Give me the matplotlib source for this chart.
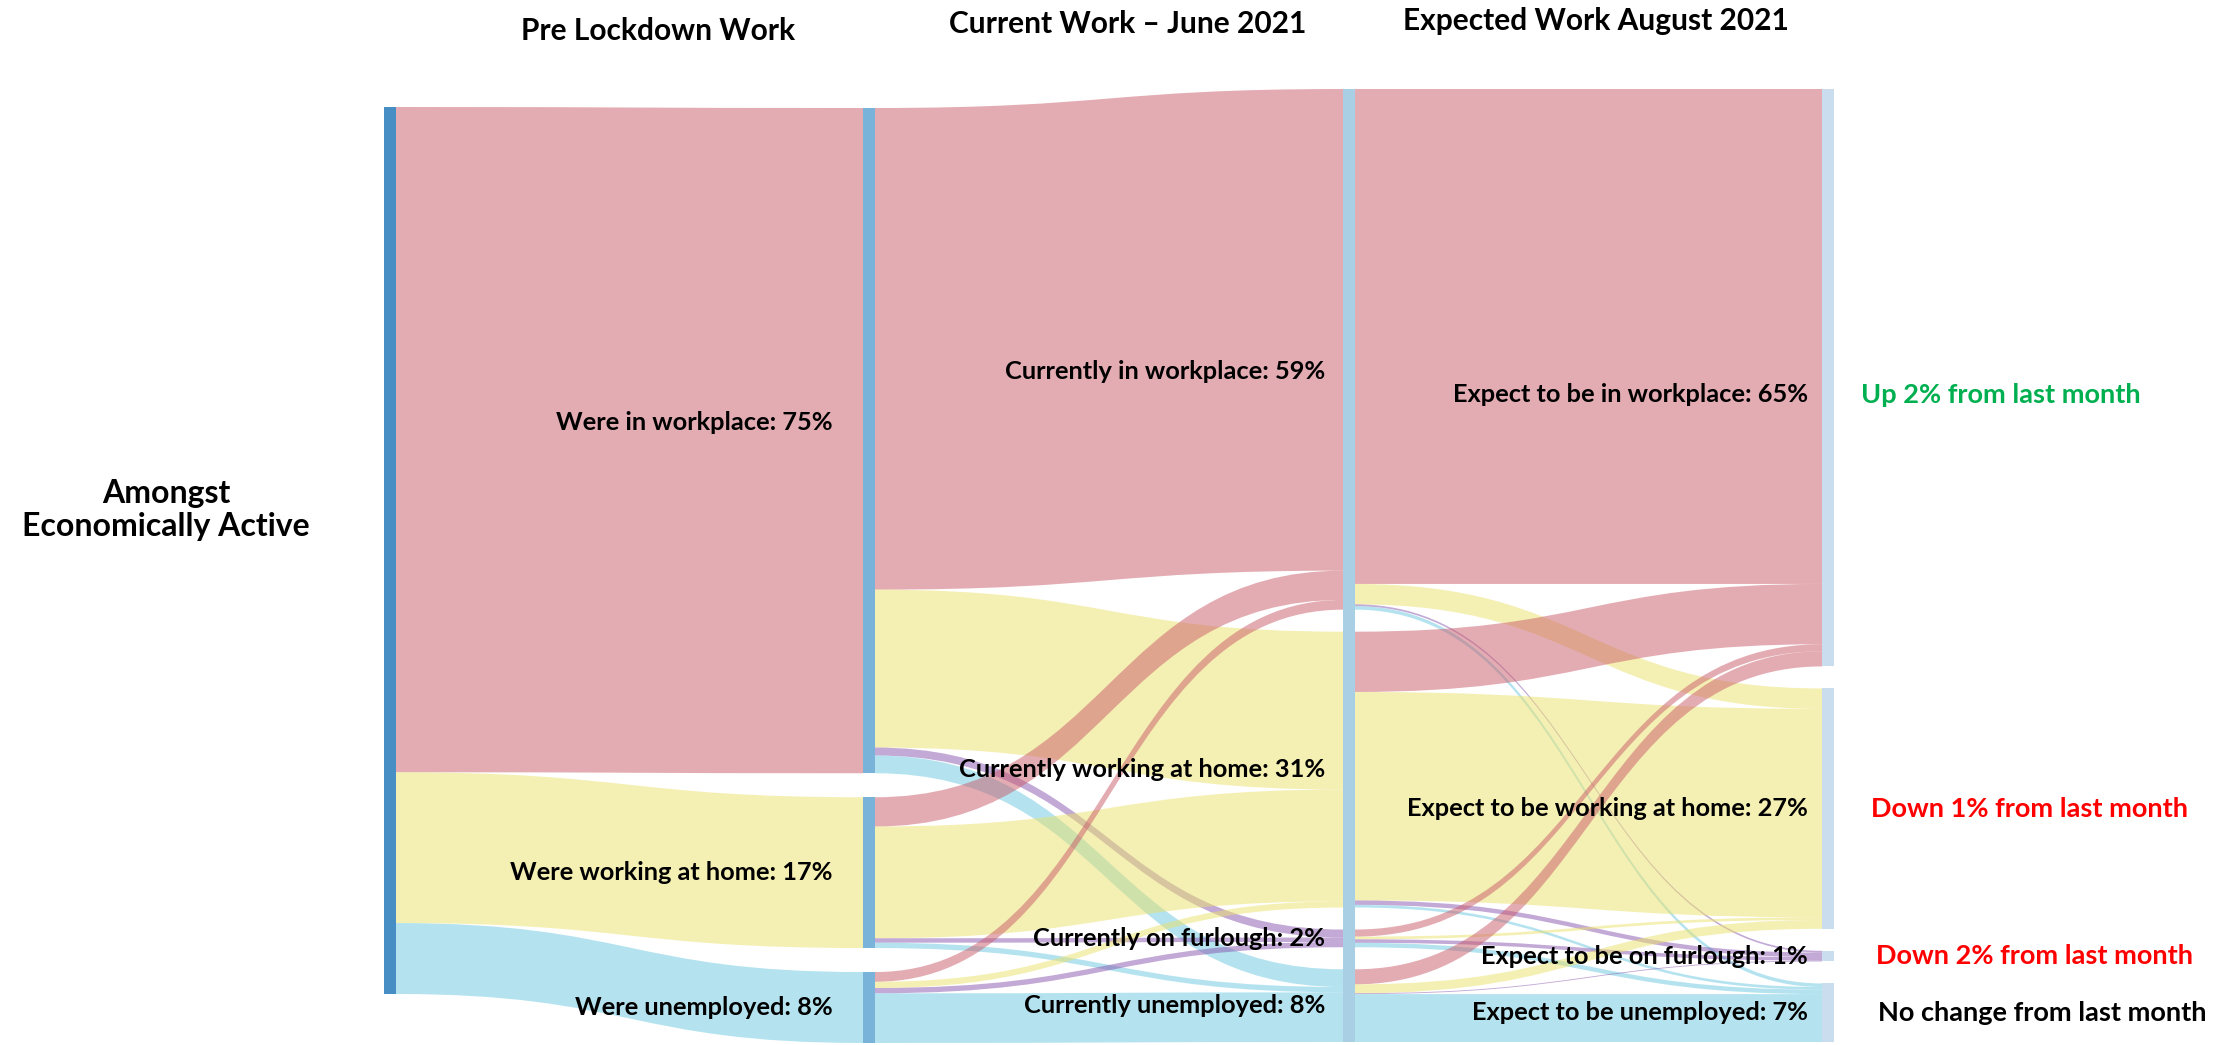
import matplotlib
matplotlib.use("Agg")
import matplotlib.pyplot as plt
from matplotlib.path import Path
from matplotlib.patches import PathPatch, Rectangle

plt.rcParams['font.family'] = ['Lato', 'DejaVu Sans']

# ---------------- data ----------------
column_titles = ["Pre Lockdown Work", "Current Work \u2013 June 2021", "Expected Work August 2021"]
root_label = "Amongst\nEconomically Active"

pre_labels = ["Were in workplace: 75%", "Were working at home: 17%", "Were unemployed: 8%"]
pre_values = [75, 17, 8]
pre_states = ["workplace", "home", "unemployed"]

current_labels = ["Currently in workplace: 59%", "Currently working at home: 31%",
                  "Currently on furlough: 2%", "Currently unemployed: 8%"]
current_states = ["workplace", "home", "furlough", "unemployed"]
# rows: pre state, cols: current state (% of economically active)
pre_workplace_to_current = [54.3, 17.8, 0.9, 2.0]
pre_home_to_current = [3.3, 12.6, 0.5, 0.6]
pre_unemployed_to_current = [1.1, 0.7, 0.6, 5.6]

expected_labels = ["Expect to be in workplace: 65%", "Expect to be working at home: 27%",
                   "Expect to be on furlough: 1%", "Expect to be unemployed: 7%"]
expected_states = ["workplace", "home", "furlough", "unemployed"]
# rows: current state, cols: expected state
cur_workplace_to_expected = [55.8, 2.3, 0.2, 0.4]
cur_home_to_expected = [6.8, 23.5, 0.5, 0.3]
cur_furlough_to_expected = [0.8, 0.3, 0.4, 0.5]
cur_unemployed_to_expected = [1.7, 1.0, 0.1, 5.4]

change_labels = ["Up 2% from last month", "Down 1% from last month",
                 "Down 2% from last month", "No change from last month"]
change_colors = ["#00b050", "#ff0000", "#ff0000", "#000000"]

# ---------------- style / layout ----------------
state_colors = {"workplace": "#c95b69", "home": "#ebe169",
                "furlough": "#8755af", "unemployed": "#6bc9e1"}
flow_alpha = 0.5
bar_colors = ["#468ec4", "#7ab3da", "#a9cfe5", "#c9ddee"]
W, H = 2229, 1045
scale = 8.87          # px per percentage point
col_x = [384, 863, 1343, 1822]
bar_w = 12
col_top = [107, 108, 89, 89]
col_gap = [0, 24, 22, 22]
label_pad = [0, 30, 18, 14]
label_font = 18.3
change_x = [1861, 1871, 1876, 1878]

fig = plt.figure(figsize=(W / 100, H / 100), dpi=100)
ax = fig.add_axes([0, 0, 1, 1])
ax.set_xlim(0, W)
ax.set_ylim(H, 0)
ax.axis("off")

pre_to_current = [pre_workplace_to_current, pre_home_to_current, pre_unemployed_to_current]
current_to_expected = [cur_workplace_to_expected, cur_home_to_expected,
                       cur_furlough_to_expected, cur_unemployed_to_expected]
current_values = [sum(r[j] for r in pre_to_current) for j in range(4)]
expected_values = [sum(r[j] for r in current_to_expected) for j in range(4)]
columns = [[sum(pre_values)], pre_values, current_values, expected_values]


def layout(c):
    y = col_top[c]
    spans = []
    for v in columns[c]:
        spans.append([y, y + v * scale])
        y += v * scale + col_gap[c]
    return spans


spans = [layout(c) for c in range(4)]


def flow(x0, a0, b0, x1, a1, b1, color):
    xm = (x0 + x1) / 2
    verts = [(x0, a0), (xm, a0), (xm, a1), (x1, a1), (x1, b1),
             (xm, b1), (xm, b0), (x0, b0), (x0, a0)]
    codes = [Path.MOVETO, Path.CURVE4, Path.CURVE4, Path.CURVE4, Path.LINETO,
             Path.CURVE4, Path.CURVE4, Path.CURVE4, Path.CLOSEPOLY]
    ax.add_patch(PathPatch(Path(verts, codes), facecolor=color, edgecolor="none",
                           alpha=flow_alpha, zorder=1))


# stage 0 -> 1
y_src = spans[0][0][0]
for i, v in enumerate(pre_values):
    t0, t1 = spans[1][i]
    flow(col_x[0] + bar_w, y_src, y_src + v * scale, col_x[1], t0, t1,
         state_colors[pre_states[i]])
    y_src += v * scale


def stage(c, matrix, tgt_states):
    src_off = [s[0] for s in spans[c]]
    tgt_off = [s[0] for s in spans[c + 1]]
    for i, row in enumerate(matrix):
        for j, v in enumerate(row):
            h = v * scale
            flow(col_x[c] + bar_w, src_off[i], src_off[i] + h,
                 col_x[c + 1], tgt_off[j], tgt_off[j] + h,
                 state_colors[tgt_states[j]])
            src_off[i] += h
            tgt_off[j] += h


stage(1, pre_to_current, current_states)
stage(2, current_to_expected, expected_states)

# node bars
for c in range(4):
    if c == 2:
        segs = [(spans[c][0][0], spans[c][-1][1])]
    else:
        segs = spans[c]
    for (a, b) in segs:
        ax.add_patch(Rectangle((col_x[c], a), bar_w, b - a, facecolor=bar_colors[c],
                               edgecolor="none", zorder=3))

# node labels
label_sets = [None, pre_labels, current_labels, expected_labels]
first_dy = [0, -18, 22, 17]
for c in range(1, 4):
    for k, lab in enumerate(label_sets[c]):
        a, b = spans[c][k]
        y = (a + b) / 2 + (first_dy[c] if k == 0 else 0)
        ax.text(col_x[c] - label_pad[c], y, lab, ha="right", va="center",
                fontsize=label_font, fontweight="bold", color="black", zorder=5)

# change annotations
for k, lab in enumerate(change_labels):
    a, b = spans[3][k]
    y = (a + b) / 2 + (first_dy[3] if k == 0 else 0)
    ax.text(change_x[k], y, lab, ha="left", va="center", fontsize=19.5,
            fontweight="bold", color=change_colors[k], zorder=5)

# titles
title_pos = [(658, 31), (1128, 24), (1596, 21)]
for (x, y), t in zip(title_pos, column_titles):
    ax.text(x, y, t, ha="center", va="center", fontsize=21.5, fontweight="bold", color="black")

ax.text(166, 510, root_label, ha="center", va="center", fontsize=23,
        fontweight="bold", color="black", linespacing=1.15)

fig.savefig("out.png", dpi=100)
